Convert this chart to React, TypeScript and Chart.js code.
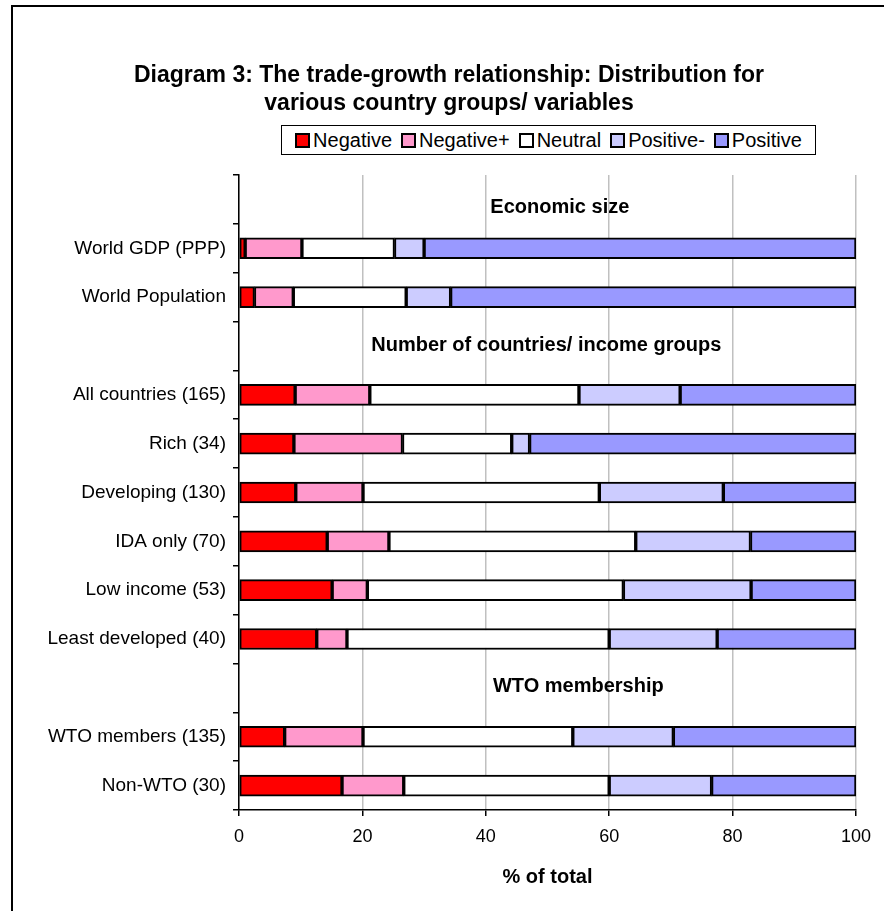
import React, { useEffect, useRef } from 'react';
import { Chart, registerables } from 'chart.js';

Chart.register(...registerables);

const categories = [
  '',
  'World GDP (PPP)',
  'World Population',
  '',
  'All countries (165)',
  'Rich (34)',
  'Developing (130)',
  'IDA only (70)',
  'Low income (53)',
  'Least developed (40)',
  '',
  'WTO members (135)',
  'Non-WTO (30)',
];

const negative = [null, 1.0, 2.5, null, 9.1, 8.9, 9.2, 14.3, 15.1, 12.6, null, 7.4, 16.7];
const negativePlus = [null, 9.2, 6.3, null, 12.1, 17.6, 10.9, 10.0, 5.7, 4.9, null, 12.7, 10.0];
const neutral = [null, 15.0, 18.3, null, 33.9, 17.7, 38.3, 40.0, 41.5, 42.5, null, 34.0, 33.3];
const positiveMinus = [null, 4.8, 7.2, null, 16.4, 2.9, 20.1, 18.6, 20.7, 17.5, null, 16.3, 16.6];
const positive = [null, 70.0, 65.7, null, 28.5, 52.9, 21.5, 17.1, 17.0, 22.5, null, 29.6, 23.4];

const seriesNames = ['Negative', 'Negative+', 'Neutral', 'Positive-', 'Positive'];
const seriesColors = ['#FF0000', '#FF99CC', '#FFFFFF', '#CCCCFF', '#9999FF'];
const seriesValues = [negative, negativePlus, neutral, positiveMinus, positive];

const sectionHeaders = ['Economic size', 'Number of countries/ income groups', 'WTO membership'];
const sectionRows = [0, 3, 10];

const xTickValues = [0, 20, 40, 60, 80, 100];

const FONT = "'Liberation Sans', Arial, sans-serif";

// label placement (in axis units / pixel nudges), not data
const sectionX = [52, 49.8, 55];
const sectionDy = [8, 0, -1];

const sectionPlugin = {
  id: 'sectionHeaders',
  afterDatasetsDraw(chart: any) {
    const { ctx, scales } = chart;
    const xs = scales.x;
    const ys = scales.y;
    ctx.save();
    ctx.font = `bold 20px ${FONT}`;
    ctx.fillStyle = '#000';
    ctx.textAlign = 'center';
    ctx.textBaseline = 'middle';
    sectionHeaders.forEach((t, i) => {
      const x = xs.getPixelForValue(sectionX[i]);
      const y = ys.getPixelForValue(sectionRows[i]) + sectionDy[i];
      ctx.fillText(t, x, y);
    });
    ctx.restore();
  },
};

export default function App() {
  const canvasRef = useRef<HTMLCanvasElement | null>(null);

  useEffect(() => {
    if (!canvasRef.current) return;
    const chart = new Chart(canvasRef.current, {
      type: 'bar',
      data: {
        labels: categories,
        datasets: seriesNames.map((name, i) => ({
          label: name,
          data: seriesValues[i] as any,
          backgroundColor: seriesColors[i],
          borderColor: '#000000',
          borderWidth: 2,
          borderSkipped: false,
          barThickness: 21,
        })),
      },
      options: {
        indexAxis: 'y',
        animation: false,
        responsive: true,
        maintainAspectRatio: false,
        layout: { padding: { top: 175, right: 28, bottom: 0, left: 0 } },
        plugins: {
          legend: { display: false },
          title: { display: false },
          tooltip: { enabled: false },
        },
        scales: {
          x: {
            stacked: true,
            min: 0,
            max: 100,
            afterBuildTicks: (scale: any) => {
              scale.ticks = xTickValues.map((v) => ({ value: v }));
            },
            afterFit: (scale: any) => {
              scale.height = 101;
            },
            ticks: {
              font: { family: FONT, size: 18 },
              color: '#000',
              padding: 10,
            },
            grid: {
              color: '#C0C0C0',
              lineWidth: 1.5,
              tickColor: '#000',
              tickLength: 6,
            },
            border: { color: '#000', width: 1.5 },
            title: {
              display: true,
              text: '% of total',
              font: { family: FONT, size: 20, weight: 'bold' },
              color: '#000',
              padding: { top: 4, bottom: 22 },
            },
          },
          y: {
            stacked: true,
            afterFit: (scale: any) => {
              scale.width = 239;
            },
            ticks: {
              font: { family: FONT, size: 19 },
              color: '#000',
              padding: 7,
              autoSkip: false,
            },
            grid: {
              drawOnChartArea: false,
              offset: true,
              color: '#000',
              tickColor: '#000',
              tickLength: 6,
              lineWidth: 1.5,
            },
            border: { color: '#000', width: 1.5 },
          },
        },
      } as any,
      plugins: [sectionPlugin],
    });
    return () => chart.destroy();
  }, []);

  return (
    <div style={{ position: 'absolute', left: 0, top: 0, width: 884, height: 911, background: '#fff', overflow: 'hidden', fontFamily: FONT }}>
      <div
        style={{
          position: 'absolute',
          left: 11,
          top: 5,
          width: 890,
          height: 920,
          borderLeft: '2px solid #000',
          borderTop: '2px solid #000',
        }}
      />
      <div style={{ position: 'absolute', left: 0, top: 0, width: 884, height: 911 }}>
        <canvas ref={canvasRef} />
      </div>
      <div
        style={{
          position: 'absolute',
          left: 14,
          top: 60,
          width: 870,
          textAlign: 'center',
          fontWeight: 'bold',
          fontSize: 23,
          lineHeight: '28px',
          color: '#000',
        }}
      >
        Diagram 3: The trade-growth relationship: Distribution for
        <br />
        various country groups/ variables
      </div>
      <div
        style={{
          position: 'absolute',
          left: 281,
          top: 125,
          width: 535,
          height: 30,
          boxSizing: 'border-box',
          border: '1px solid #000',
          display: 'flex',
          alignItems: 'center',
          justifyContent: 'center',
          fontSize: 20,
          color: '#000',
          background: '#fff',
        }}
      >
        {seriesNames.map((name, i) => (
          <div key={name} style={{ display: 'flex', alignItems: 'center', marginRight: i < seriesNames.length - 1 ? 9 : 0 }}>
            <span
              style={{
                display: 'inline-block',
                width: 11,
                height: 11,
                border: '2px solid #000',
                background: seriesColors[i],
                marginRight: 3,
              }}
            />
            <span>{name}</span>
          </div>
        ))}
      </div>
    </div>
  );
}
